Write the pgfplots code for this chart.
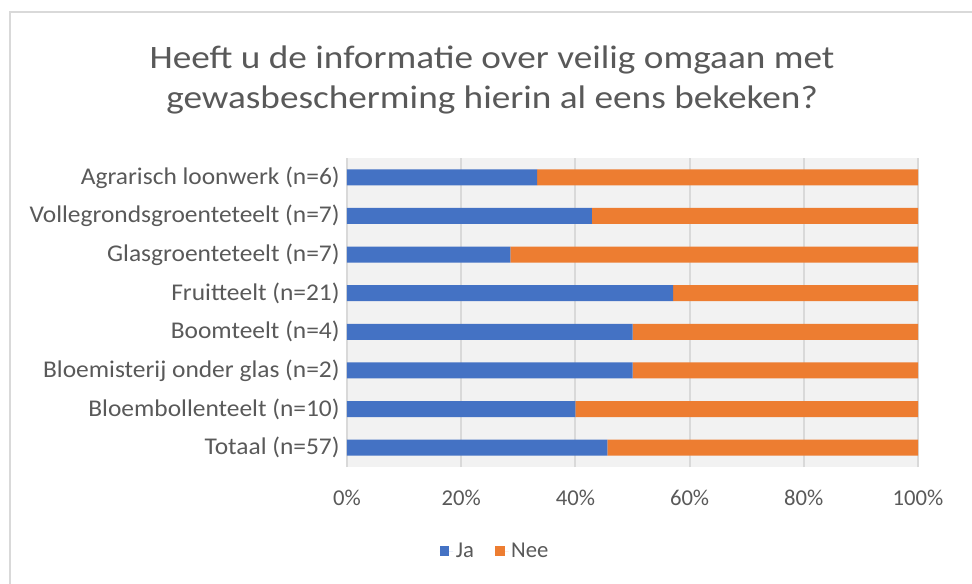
\documentclass[border=0pt]{standalone}
\usepackage{pgfplots}
\pgfplotsset{compat=1.18}
\usepackage{fontspec}
\setmainfont{Carlito}
\newfontfamily\titlefont[FakeStretch=1.14]{Carlito}
\newfontfamily\labelfont[FakeStretch=1.06]{Carlito}
\definecolor{txt}{HTML}{595959}
\definecolor{ja}{HTML}{4472C4}
\definecolor{nee}{HTML}{ED7D31}
\definecolor{bg}{HTML}{F2F2F2}
\definecolor{grd}{HTML}{D9D9D9}
\begin{document}
\begin{tikzpicture}
\path[use as bounding box] (0,0) rectangle (729pt,437.25pt);
\draw[grd, line width=1pt] (7.5pt,-5pt) -- (7.5pt,428.25pt) -- (740pt,428.25pt);
\node[text=txt, font=\titlefont\fontsize{24.5pt}{29pt}\selectfont] at (369pt,392.25pt) {Heeft u de informatie over veilig omgaan met};
\node[text=txt, font=\titlefont\fontsize{24.5pt}{29pt}\selectfont] at (369pt,362.25pt) {gewasbescherming hierin al eens bekeken?};
\begin{axis}[
  at={(260.25pt,87pt)}, anchor=south west,
  scale only axis, width=428.25pt, height=231.75pt,
  xbar stacked, bar width=12pt,
  xmin=0, xmax=100, ymin=-0.5, ymax=7.5,
  xtick={0,20,40,60,80,100},
  xticklabel={\pgfmathprintnumber{\tick}\%},
  ytick={0,1,2,3,4,5,6,7},
  yticklabels={Totaal (n=57),Bloembollenteelt (n=10),Bloemisterij onder glas (n=2),Boomteelt (n=4),Fruitteelt (n=21),Glasgroenteteelt (n=7),Vollegrondsgroenteteelt (n=7),Agrarisch loonwerk (n=6)},
  /pgf/number format/assume math mode=true,
  xticklabel style={text=txt, font=\fontsize{17pt}{20pt}\selectfont, yshift=-14pt},
  yticklabel style={text=txt, font=\labelfont\fontsize{18pt}{21pt}\selectfont, xshift=-2pt},
  major tick length=0pt,
  axis line style={draw=none},
  axis background/.style={fill=bg},
  xmajorgrids, grid style={draw=grd, line width=1.5pt},
  legend style={at={(0.26,-0.272)}, anchor=center, draw=none, fill=none, legend columns=2,
    font=\fontsize{17pt}{20pt}\selectfont, text=txt,
    /tikz/every even column/.append style={column sep=14pt}},
  legend image code/.code={\fill[#1] (0pt,-3.5pt) rectangle (7pt,3.5pt); \path (0pt,0pt) -- (10pt,0pt);},
]
\addplot[fill=ja, draw=none] coordinates {(45.6,0) (40.0,1) (50.0,2) (50.0,3) (57.1,4) (28.6,5) (42.9,6) (33.3,7)};
\addplot[fill=nee, draw=none] coordinates {(54.4,0) (60.0,1) (50.0,2) (50.0,3) (42.9,4) (71.4,5) (57.1,6) (66.7,7)};
\legend{Ja,Nee}
\end{axis}
\end{tikzpicture}
\end{document}
